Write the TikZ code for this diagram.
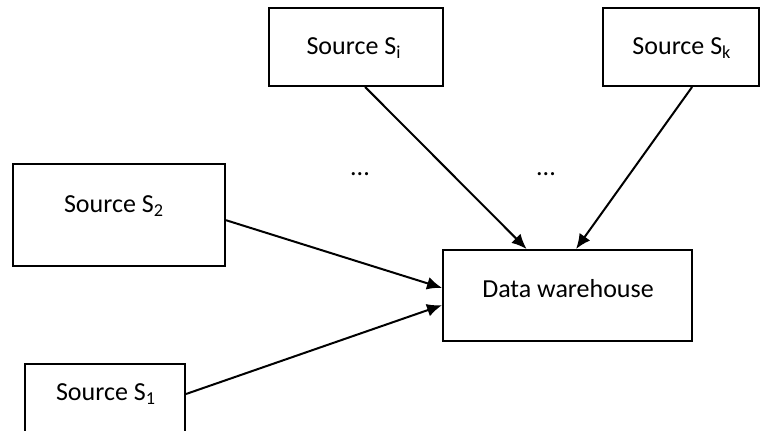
\documentclass[tikz,border=0pt]{standalone}
\usepackage{fontspec}
\setmainfont{Carlito}
\usetikzlibrary{arrows.meta,calc}
\begin{document}
\begin{tikzpicture}[x=0.5pt,y=-0.5pt,
  box/.style={draw=black,line width=1pt,inner sep=0pt},
  lbl/.style={font=\fontsize{13}{15}\selectfont,inner sep=0pt},
  flow/.style={line width=1pt,-{Latex[length=7.5pt,width=6.5pt]}}]
  \clip (0,0) rectangle (760,430);

  % boxes
  \node[box,minimum width=87pt,minimum height=39pt] (si) at (356,47) {};
  \node[box,minimum width=78pt,minimum height=39pt] (sk) at (681,47) {};
  \node[box,minimum width=106pt,minimum height=51pt] (s2) at (119,215) {};
  \node[box,minimum width=80pt,minimum height=48pt] (s1) at (105,412) {};
  \node[box,minimum width=124.5pt,minimum height=45.5pt] (dw) at (567.5,295.5) {};

  % labels
  \node[lbl] (tsi) at (354,48) {Source S\textsubscript{i}};
  \node[lbl] (tsk) at (682,48) {Source S\textsubscript{k}};
  \node[lbl] (ts2) at (114,206) {Source S\textsubscript{2}};
  \node[lbl] (ts1) at (106,394) {Source S\textsubscript{1}};
  \node[lbl] (tdw) at (568,289) {Data warehouse};
  \node[lbl] (dots1) at (360,174) {...};
  \node[lbl] (dots2) at (546,174) {...};

  % connectors
  \draw[flow] ($(si.south west)!0.552!(si.south east)$) -- ($(dw.north west)!0.337!(dw.north east)$);
  \draw[flow] ($(sk.south west)!0.57!(sk.south east)$) -- ($(dw.north west)!0.534!(dw.north east)$);
  \draw[flow] ($(s2.north east)!0.55!(s2.south east)$) -- ($(dw.north west)!0.418!(dw.south west)$);
  \draw[flow] ($(s1.north east)+(0,31)$) -- ($(dw.north west)!0.604!(dw.south west)$);
\end{tikzpicture}
\end{document}
